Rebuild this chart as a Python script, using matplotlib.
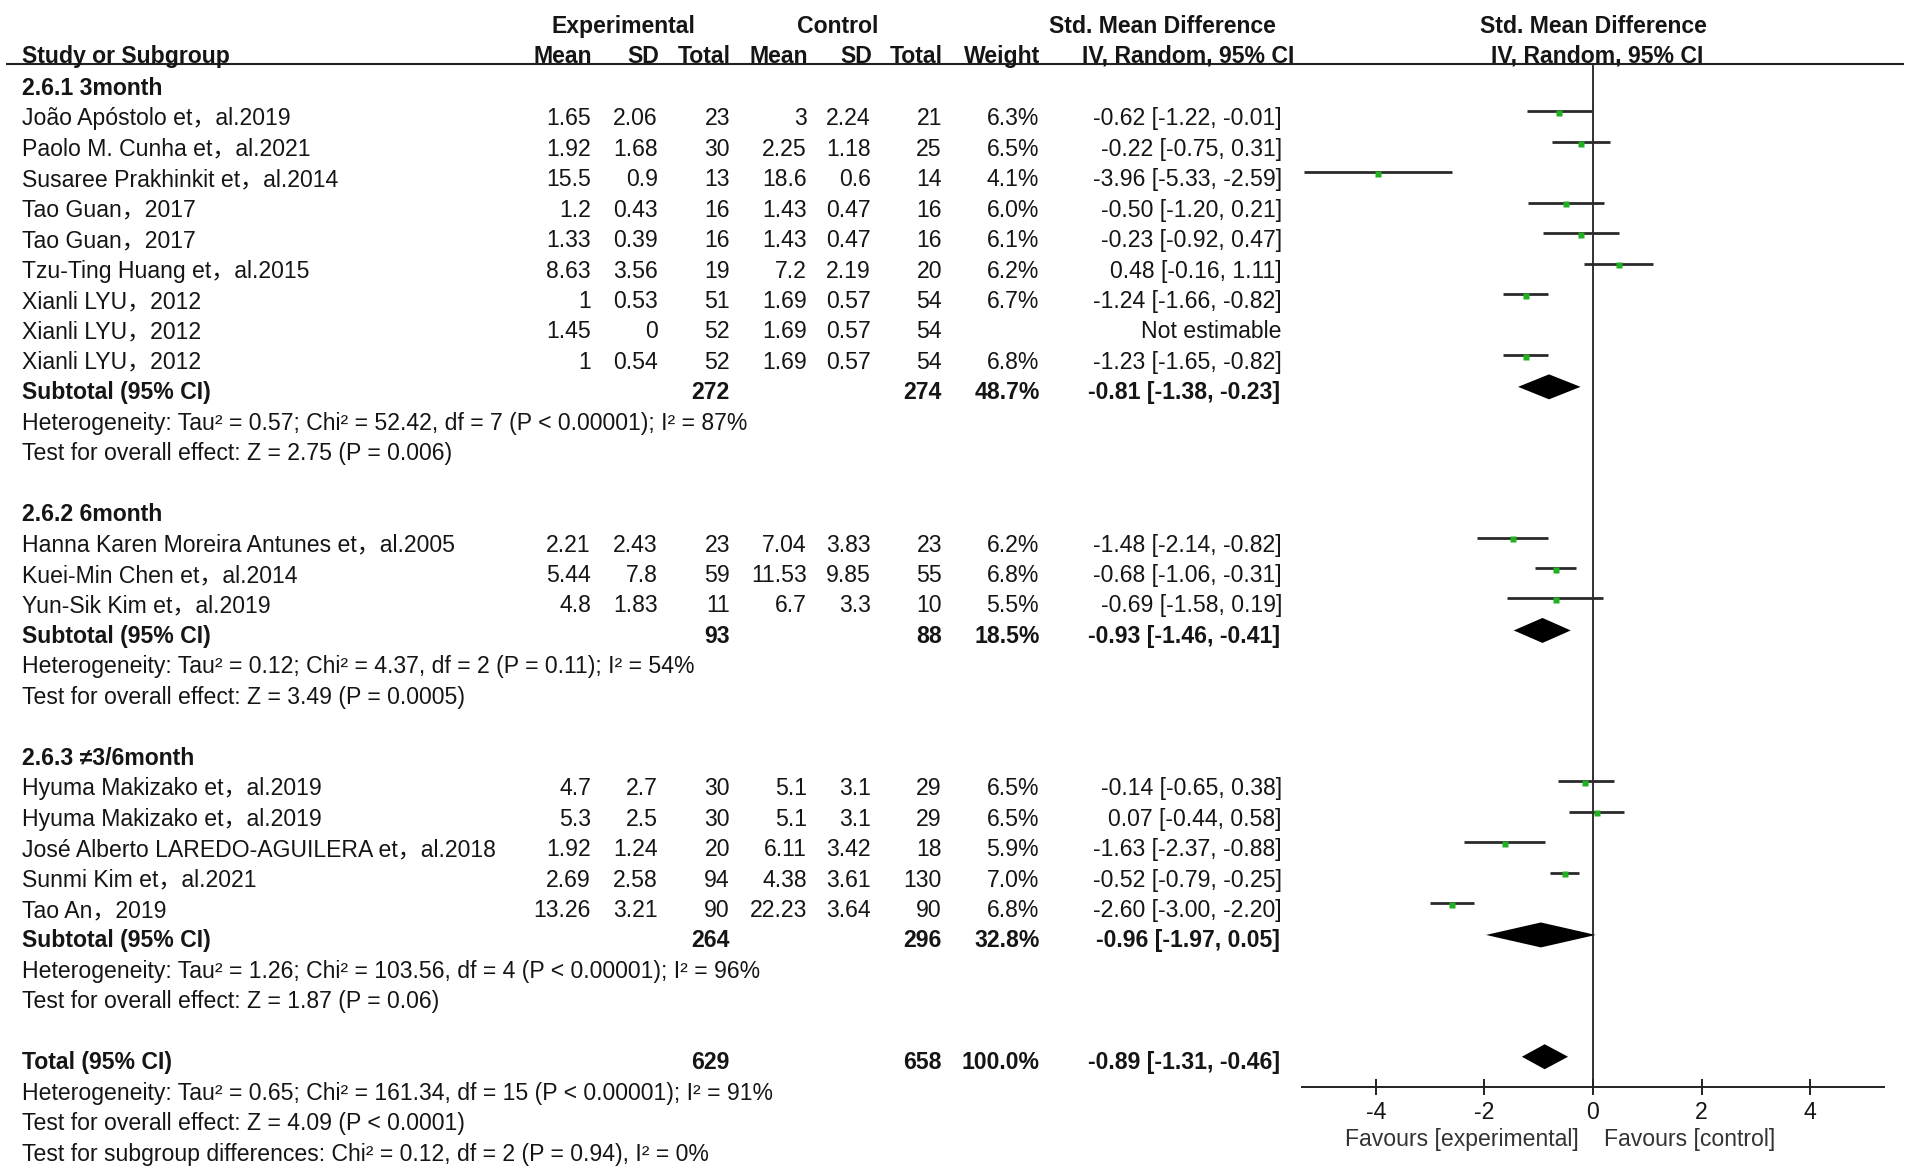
import matplotlib
matplotlib.use("Agg")
import matplotlib.pyplot as plt

plt.rcParams['font.family'] = ['Liberation Sans', 'Noto Sans CJK SC', 'DejaVu Sans']

# ---------------- data ----------------
group_labels = ["2.6.1 3month", "2.6.2 6month", "2.6.3 \u22603/6month"]

names = [
    ["João Apóstolo et，al.2019", "Paolo M. Cunha et，al.2021", "Susaree Prakhinkit et，al.2014",
     "Tao Guan，2017", "Tao Guan，2017", "Tzu-Ting Huang et，al.2015",
     "Xianli LYU，2012", "Xianli LYU，2012", "Xianli LYU，2012"],
    ["Hanna Karen Moreira Antunes et，al.2005", "Kuei-Min Chen et，al.2014", "Yun-Sik Kim et，al.2019"],
    ["Hyuma Makizako et，al.2019", "Hyuma Makizako et，al.2019",
     "José Alberto LAREDO-AGUILERA et，al.2018", "Sunmi Kim et，al.2021", "Tao An，2019"],
]
exp_mean = [[1.65, 1.92, 15.5, 1.2, 1.33, 8.63, 1, 1.45, 1], [2.21, 5.44, 4.8], [4.7, 5.3, 1.92, 2.69, 13.26]]
exp_sd = [[2.06, 1.68, 0.9, 0.43, 0.39, 3.56, 0.53, 0, 0.54], [2.43, 7.8, 1.83], [2.7, 2.5, 1.24, 2.58, 3.21]]
exp_n = [[23, 30, 13, 16, 16, 19, 51, 52, 52], [23, 59, 11], [30, 30, 20, 94, 90]]
ctl_mean = [[3, 2.25, 18.6, 1.43, 1.43, 7.2, 1.69, 1.69, 1.69], [7.04, 11.53, 6.7], [5.1, 5.1, 6.11, 4.38, 22.23]]
ctl_sd = [[2.24, 1.18, 0.6, 0.47, 0.47, 2.19, 0.57, 0.57, 0.57], [3.83, 9.85, 3.3], [3.1, 3.1, 3.42, 3.61, 3.64]]
ctl_n = [[21, 25, 14, 16, 16, 20, 54, 54, 54], [23, 55, 10], [29, 29, 18, 130, 90]]
weight = [[6.3, 6.5, 4.1, 6.0, 6.1, 6.2, 6.7, None, 6.8], [6.2, 6.8, 5.5], [6.5, 6.5, 5.9, 7.0, 6.8]]
smd = [[-0.62, -0.22, -3.96, -0.50, -0.23, 0.48, -1.24, None, -1.23], [-1.48, -0.68, -0.69],
       [-0.14, 0.07, -1.63, -0.52, -2.60]]
ci_lo = [[-1.22, -0.75, -5.33, -1.20, -0.92, -0.16, -1.66, None, -1.65], [-2.14, -1.06, -1.58],
         [-0.65, -0.44, -2.37, -0.79, -3.00]]
ci_hi = [[-0.01, 0.31, -2.59, 0.21, 0.47, 1.11, -0.82, None, -0.82], [-0.82, -0.31, 0.19],
         [0.38, 0.58, -0.88, -0.25, -2.20]]

sub_exp_n = [272, 93, 264]
sub_ctl_n = [274, 88, 296]
sub_weight = [48.7, 18.5, 32.8]
sub_smd = [-0.81, -0.93, -0.96]
sub_lo = [-1.38, -1.46, -1.97]
sub_hi = [-0.23, -0.41, 0.05]
sub_het = ["Heterogeneity: Tau² = 0.57; Chi² = 52.42, df = 7 (P < 0.00001); I² = 87%",
           "Heterogeneity: Tau² = 0.12; Chi² = 4.37, df = 2 (P = 0.11); I² = 54%",
           "Heterogeneity: Tau² = 1.26; Chi² = 103.56, df = 4 (P < 0.00001); I² = 96%"]
sub_test = ["Test for overall effect: Z = 2.75 (P = 0.006)",
            "Test for overall effect: Z = 3.49 (P = 0.0005)",
            "Test for overall effect: Z = 1.87 (P = 0.06)"]

tot_exp_n, tot_ctl_n, tot_weight = 629, 658, 100.0
tot_smd, tot_lo, tot_hi = -0.89, -1.31, -0.46
tot_lines = ["Heterogeneity: Tau² = 0.65; Chi² = 161.34, df = 15 (P < 0.00001); I² = 91%",
             "Test for overall effect: Z = 4.09 (P < 0.0001)",
             "Test for subgroup differences: Chi² = 0.12, df = 2 (P = 0.94), I² = 0%"]

x_ticks = [-4, -2, 0, 2, 4]

# ---------------- layout ----------------
W, H = 1908, 1170
ROW0, ROWH = 86.0, 30.45
def px2row(p):
    return (p - ROW0) / ROWH

FS = 16.6
TXT = '#151515'
BASE = 0.29   # baseline offset (rows) from visual centre

fig = plt.figure(figsize=(W / 100, H / 100), dpi=100)
tab = fig.add_axes([0, 0, 1, 1])
tab.set_xlim(0, W)
tab.set_ylim(px2row(H), px2row(0))
tab.axis('off')

fa = fig.add_axes([1302 / W, 1 - 1087 / H, (1884 - 1302) / W, (1087 - 64) / H])
fa.set_xlim(-5.36, 5.36)
fa.set_ylim(px2row(1087), px2row(64))
fa.patch.set_alpha(0)
for s in ['top', 'left', 'right']:
    fa.spines[s].set_visible(False)
fa.spines['bottom'].set_linewidth(1.4)
fa.spines['bottom'].set_color('#222')
fa.set_yticks([])
fa.set_xticks(x_ticks)
fa.set_xticklabels([str(t) for t in x_ticks])
fa.tick_params(axis='x', direction='inout', length=12, width=1.4, labelsize=FS, pad=4,
               color='#222', labelcolor=TXT)
fa.axvline(0, color='#222', lw=1.3)

COL = dict(em=591, esd=658, en=730, cm=807, csd=871, cn=942, w=1039, ci=1282)
NAME_X = 22

def txt(x, r, s, ha='right', bold=False):
    tab.text(x, r + BASE, s, ha=ha, va='baseline', fontsize=FS,
             fontweight='bold' if bold else 'normal', color=TXT)

def fmt(v):
    return f"{v:g}"

# header
hr1, hr2 = -2.03, -1.05
txt(623, hr1, "Experimental", ha='center', bold=True)
txt(838, hr1, "Control", ha='center', bold=True)
txt(1162, hr1, "Std. Mean Difference", ha='center', bold=True)
txt(1593, hr1, "Std. Mean Difference", ha='center', bold=True)
txt(NAME_X, hr2, "Study or Subgroup", ha='left', bold=True)
for key, lab in [('em', 'Mean'), ('esd', 'SD'), ('en', 'Total'), ('cm', 'Mean'),
                 ('csd', 'SD'), ('cn', 'Total'), ('w', 'Weight')]:
    txt(COL[key] + 1, hr2, lab, bold=True)
txt(1188, hr2, "IV, Random, 95% CI", ha='center', bold=True)
txt(1597, hr2, "IV, Random, 95% CI", ha='center', bold=True)
tab.plot([6, 1904], [px2row(64)] * 2, color='#222', lw=1.5, solid_capstyle='butt')

LINE_OFF = -0.17
MARK_OFF = -0.11
DIA_OFF = -0.12
DIA_H = 0.41

def diamond(r, m, lo, hi):
    yc = r + DIA_OFF
    fa.fill([lo, m, hi, m], [yc, yc - DIA_H, yc, yc + DIA_H], color='black', lw=0, clip_on=False)

row = 0
for g in range(len(group_labels)):
    txt(NAME_X, row, group_labels[g], ha='left', bold=True)
    row += 1
    for i in range(len(names[g])):
        txt(NAME_X, row, names[g][i], ha='left')
        txt(COL['em'], row, fmt(exp_mean[g][i]))
        txt(COL['esd'], row, fmt(exp_sd[g][i]))
        txt(COL['en'], row, str(exp_n[g][i]))
        txt(COL['cm'], row, fmt(ctl_mean[g][i]))
        txt(COL['csd'], row, fmt(ctl_sd[g][i]))
        txt(COL['cn'], row, str(ctl_n[g][i]))
        if smd[g][i] is None:
            txt(COL['ci'], row, "Not estimable")
        else:
            txt(COL['w'], row, f"{weight[g][i]:.1f}%")
            txt(COL['ci'], row, f"{smd[g][i]:.2f} [{ci_lo[g][i]:.2f}, {ci_hi[g][i]:.2f}]")
            fa.plot([ci_lo[g][i], ci_hi[g][i]], [row + LINE_OFF] * 2, color='#2a2a2a', lw=2.0,
                    solid_capstyle='butt', clip_on=False)
            fa.plot([smd[g][i]], [row + MARK_OFF], marker='s', ms=4.2, color='#21b021',
                    mec='none', clip_on=False)
        row += 1
    txt(NAME_X, row, "Subtotal (95% CI)", ha='left', bold=True)
    txt(COL['en'], row, str(sub_exp_n[g]), bold=True)
    txt(COL['cn'], row, str(sub_ctl_n[g]), bold=True)
    txt(COL['w'] + 1, row, f"{sub_weight[g]:.1f}%", bold=True)
    txt(COL['ci'] - 2, row, f"{sub_smd[g]:.2f} [{sub_lo[g]:.2f}, {sub_hi[g]:.2f}]", bold=True)
    diamond(row, sub_smd[g], sub_lo[g], sub_hi[g])
    row += 1
    txt(NAME_X, row, sub_het[g], ha='left')
    row += 1
    txt(NAME_X, row, sub_test[g], ha='left')
    row += 2

# total
txt(NAME_X, row, "Total (95% CI)", ha='left', bold=True)
txt(COL['en'], row, str(tot_exp_n), bold=True)
txt(COL['cn'], row, str(tot_ctl_n), bold=True)
txt(COL['w'] + 1, row, f"{tot_weight:.1f}%", bold=True)
txt(COL['ci'] - 2, row, f"{tot_smd:.2f} [{tot_lo:.2f}, {tot_hi:.2f}]", bold=True)
diamond(row, tot_smd, tot_lo, tot_hi)
for k, line in enumerate(tot_lines):
    txt(NAME_X, row + 1 + k, line, ha='left')

# favours labels
fav_r = px2row(1138)
fa.text(-0.27, fav_r + 0.25, "Favours [experimental]", ha='right', va='baseline', fontsize=FS,
        color='#333', clip_on=False)
fa.text(0.2, fav_r + 0.25, "Favours [control]", ha='left', va='baseline', fontsize=FS,
        color='#333', clip_on=False)

fig.savefig("out.png", dpi=100, facecolor='white')
